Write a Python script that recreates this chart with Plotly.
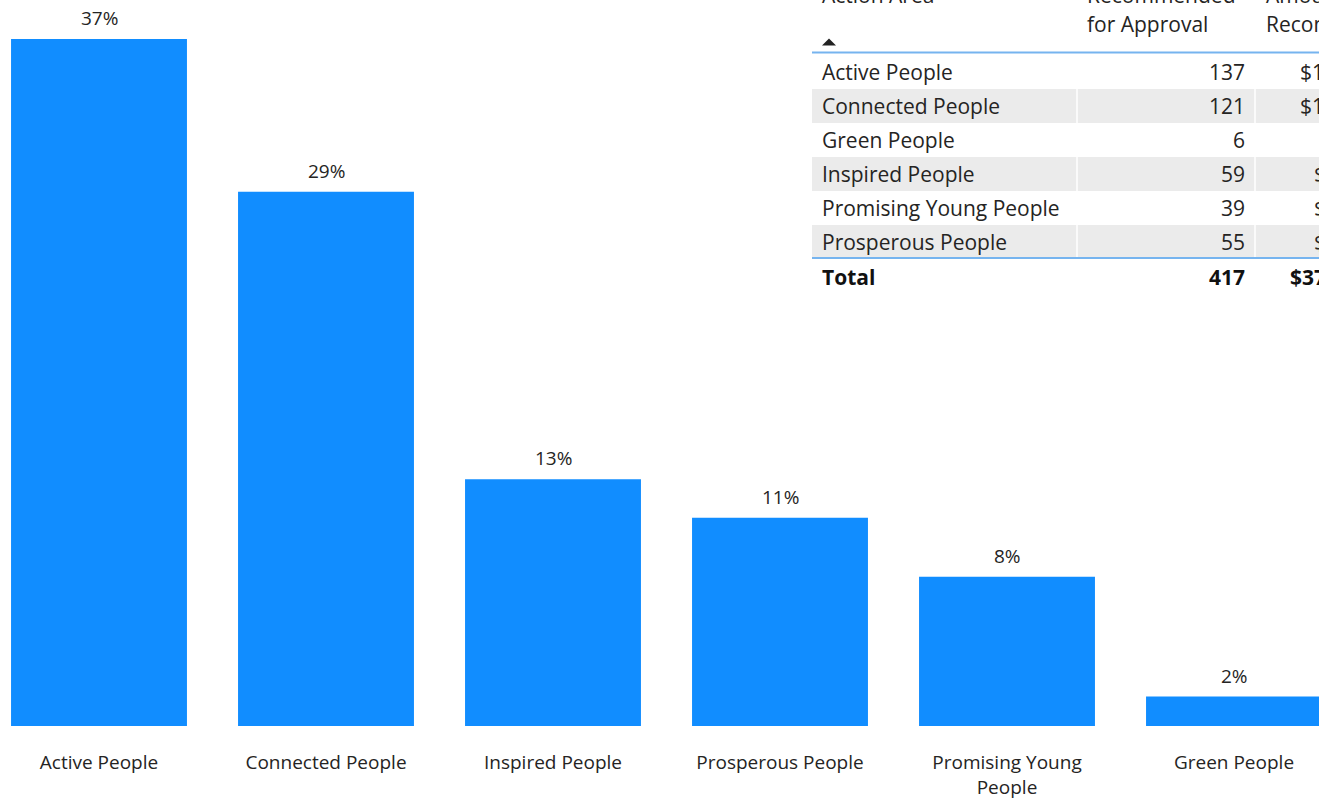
import plotly.graph_objects as go

# Bar chart: share of funding by action area
categories = [
    "Active People",
    "Connected People",
    "Inspired People",
    "Prosperous People",
    "Promising Young People",
    "Green People",
]
tick_labels = [
    "Active People",
    "Connected People",
    "Inspired People",
    "Prosperous People",
    "Promising Young<br>People",
    "Green People",
]
share_pct = [37.3, 29.0, 13.4, 11.3, 8.1, 1.6]

# Summary table (sorted by action area)
table_areas = [
    "Active People",
    "Connected People",
    "Green People",
    "Inspired People",
    "Promising Young People",
    "Prosperous People",
]
table_counts = [137, 121, 6, 59, 39, 55]
amount_shown = ["$1", "$1", "", "$", "$", "$"]
amount_total_shown = "$37"

W, H = 1319, 799
M_BOTTOM = 73
PLOT_H = H - M_BOTTOM

FONT = "Open Sans, Segoe UI, sans-serif"
TEXT = "#252423"
BAR = "#118DFF"
BAND = "#EBEBEB"
RULE = "#76B4EF"


def px(x):
    return x / W


def py(y):
    return 1 - y / PLOT_H


fig = go.Figure(
    go.Bar(
        x=categories,
        y=share_pct,
        marker=dict(color=BAR, line=dict(width=0)),
        hoverinfo="skip",
    )
)

# Percentage labels above bars
annotations = []
for c, v in zip(categories, share_pct):
    annotations.append(dict(
        x=c, y=v, xref="x", yref="y", text=f"{v:.0f}%", showarrow=False,
        yanchor="middle", yshift=21, font=dict(family=FONT, size=19, color=TEXT),
    ))

# ---- table overlay ----
T_LEFT, T_RIGHT = 812, W + 5
COL1_X, COL2_R, COL3_X = 820, 1247, 1264
ROW_TOP, ROW_H = 55, 34
TF = dict(family=FONT, size=21, color=TEXT)
TFB = dict(family=FONT, size=21, color="#111111")

shapes = []
for i in range(len(table_areas)):
    top = ROW_TOP + i * ROW_H
    if i % 2 == 1:
        shapes.append(dict(type="rect", xref="paper", yref="paper",
                           x0=px(T_LEFT), x1=px(T_RIGHT), y0=py(top), y1=py(top + ROW_H),
                           fillcolor=BAND, line=dict(width=0), layer="above"))
        for sx in (1077, 1255):
            shapes.append(dict(type="line", xref="paper", yref="paper",
                               x0=px(sx), x1=px(sx), y0=py(top), y1=py(top + ROW_H),
                               line=dict(color="white", width=1.5), layer="above"))

rule_bottom = ROW_TOP + len(table_areas) * ROW_H - 1
for ry in (52.5, rule_bottom):
    shapes.append(dict(type="line", xref="paper", yref="paper",
                       x0=px(T_LEFT), x1=px(T_RIGHT), y0=py(ry), y1=py(ry),
                       line=dict(color=RULE, width=2), layer="above"))

# sort indicator
shapes.append(dict(type="path", xref="paper", yref="paper",
                   path=f"M {px(822)} {py(45.5)} L {px(836)} {py(45.5)} L {px(829)} {py(38.5)} Z",
                   fillcolor="#222222", line=dict(width=0), layer="above"))

# header texts (top line runs past the top edge of the page)
header = [
    ("Action Area", COL1_X, -5),
    ("Recommended", 1085, -5),
    ("for Approval", 1085, 24),
    ("Amount", COL3_X, -5),
    ("Recommended", COL3_X, 24),
]
for txt, x, y in header:
    annotations.append(dict(x=px(x), y=py(y), xref="paper", yref="paper", text=txt,
                            showarrow=False, xanchor="left", yanchor="middle", font=TF))

amount_x = {"$1": 1298, "$": 1312, "": 1312}
for i, (area, cnt, amt) in enumerate(zip(table_areas, table_counts, amount_shown)):
    cy = ROW_TOP + i * ROW_H + 17
    annotations.append(dict(x=px(COL1_X), y=py(cy), xref="paper", yref="paper", text=area,
                            showarrow=False, xanchor="left", yanchor="middle", font=TF))
    annotations.append(dict(x=px(COL2_R), y=py(cy), xref="paper", yref="paper", text=str(cnt),
                            showarrow=False, xanchor="right", yanchor="middle", font=TF))
    if amt:
        annotations.append(dict(x=px(amount_x[amt]), y=py(cy), xref="paper", yref="paper",
                                text=amt, showarrow=False, xanchor="left", yanchor="middle",
                                font=TF))

total_y = rule_bottom + 19
annotations += [
    dict(x=px(COL1_X), y=py(total_y), xref="paper", yref="paper", text="<b>Total</b>",
         showarrow=False, xanchor="left", yanchor="middle", font=TFB),
    dict(x=px(COL2_R), y=py(total_y), xref="paper", yref="paper",
         text=f"<b>{sum(table_counts)}</b>", showarrow=False, xanchor="right",
         yanchor="middle", font=TFB),
    dict(x=px(1288), y=py(total_y), xref="paper", yref="paper",
         text=f"<b>{amount_total_shown}</b>", showarrow=False, xanchor="left",
         yanchor="middle", font=TFB),
]

unit_px = 227.0
x0 = -99 / unit_px
fig.update_layout(
    width=W, height=H, autosize=False,
    margin=dict(l=0, r=0, t=0, b=M_BOTTOM, pad=0),
    paper_bgcolor="white", plot_bgcolor="white",
    bargap=0.225, showlegend=False,
    xaxis=dict(
        type="category", range=[x0, x0 + W / unit_px], automargin=False,
        tickmode="array", tickvals=categories, ticktext=tick_labels,
        showgrid=False, zeroline=False, showline=False, ticks="",
        tickfont=dict(family=FONT, size=19, color=TEXT), ticklabelstandoff=23,
        fixedrange=True,
    ),
    yaxis=dict(
        range=[0, 37.3 * PLOT_H / 687], visible=False, showgrid=False,
        zeroline=False, automargin=False, fixedrange=True,
    ),
    annotations=annotations,
    shapes=shapes,
)

fig.write_html("out.html", config={"displayModeBar": False})
